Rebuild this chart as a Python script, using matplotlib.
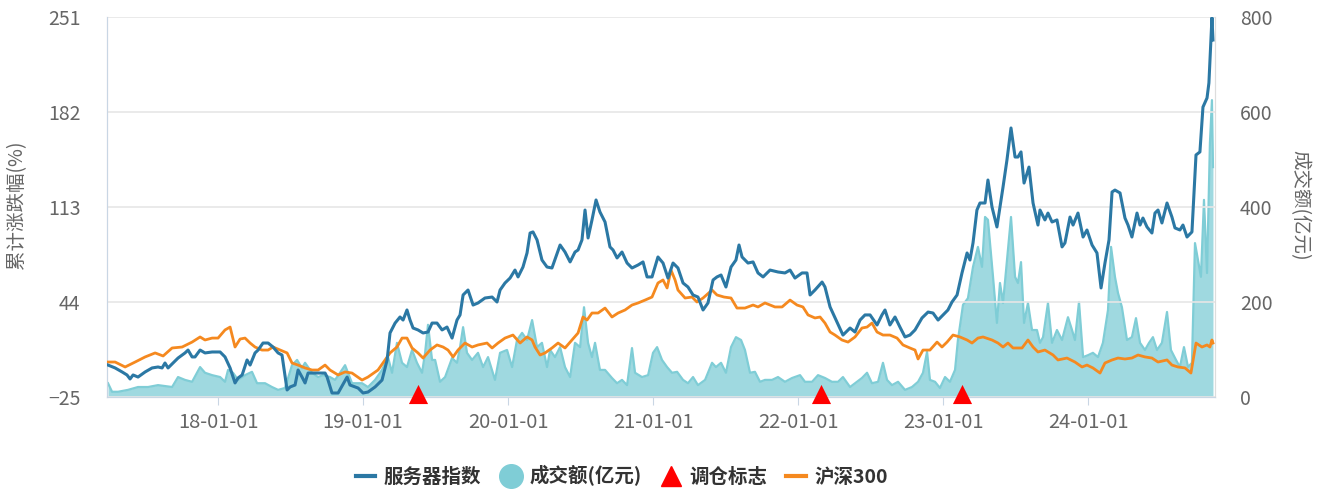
import numpy as np
import matplotlib
matplotlib.use("Agg")
import matplotlib.pyplot as plt
from matplotlib.lines import Line2D

plt.rcParams['font.family'] = ['Noto Sans CJK SC', 'DejaVu Sans']

# ------------------------------------------------------------
# data (dates as decimal years)
# ------------------------------------------------------------
idx_t = [2017.241, 2017.290, 2017.338, 2017.372, 2017.393, 2017.414, 2017.448, 2017.497,
         2017.545, 2017.586, 2017.614, 2017.634, 2017.655, 2017.690, 2017.724, 2017.772,
         2017.793, 2017.821, 2017.841, 2017.876, 2017.910, 2017.959, 2018.014, 2018.048,
         2018.083, 2018.117, 2018.138, 2018.166, 2018.200, 2018.221, 2018.255, 2018.276,
         2018.310, 2018.345, 2018.379, 2018.414, 2018.441, 2018.476, 2018.497, 2018.531,
         2018.552, 2018.579, 2018.600, 2018.621, 2018.669, 2018.717, 2018.738, 2018.752,
         2018.786, 2018.828, 2018.890, 2018.910, 2018.966, 2019.000, 2019.034, 2019.083,
         2019.131, 2019.166, 2019.186, 2019.221, 2019.255, 2019.276, 2019.303, 2019.324,
         2019.345, 2019.379, 2019.414, 2019.448, 2019.476, 2019.510, 2019.545, 2019.579,
         2019.614, 2019.648, 2019.669, 2019.690, 2019.724, 2019.759, 2019.793, 2019.841,
         2019.890, 2019.924, 2019.945, 2019.979, 2020.014, 2020.048, 2020.069, 2020.103,
         2020.131, 2020.152, 2020.172, 2020.200, 2020.234, 2020.269, 2020.303, 2020.359,
         2020.393, 2020.428, 2020.462, 2020.483, 2020.510, 2020.531, 2020.552, 2020.579,
         2020.607, 2020.634, 2020.669, 2020.703, 2020.724, 2020.752, 2020.786, 2020.821,
         2020.855, 2020.897, 2020.931, 2020.959, 2020.993, 2021.034, 2021.069, 2021.103,
         2021.138, 2021.172, 2021.207, 2021.241, 2021.276, 2021.310, 2021.345, 2021.379,
         2021.414, 2021.441, 2021.469, 2021.503, 2021.538, 2021.572, 2021.593, 2021.614,
         2021.655, 2021.690, 2021.724, 2021.759, 2021.807, 2021.862, 2021.910, 2021.945,
         2021.979, 2022.028, 2022.062, 2022.083, 2022.117, 2022.166, 2022.186, 2022.221,
         2022.269, 2022.310, 2022.359, 2022.393, 2022.428, 2022.462, 2022.497, 2022.545,
         2022.579, 2022.600, 2022.634, 2022.669, 2022.703, 2022.738, 2022.772, 2022.807,
         2022.855, 2022.897, 2022.931, 2022.966, 2023.000, 2023.034, 2023.062, 2023.097,
         2023.131, 2023.166, 2023.186, 2023.207, 2023.234, 2023.255, 2023.290, 2023.310,
         2023.338, 2023.372, 2023.414, 2023.441, 2023.469, 2023.497, 2023.517, 2023.538,
         2023.559, 2023.593, 2023.621, 2023.655, 2023.669, 2023.703, 2023.724, 2023.752,
         2023.786, 2023.821, 2023.841, 2023.876, 2023.897, 2023.931, 2023.966, 2023.993,
         2024.028, 2024.062, 2024.090, 2024.117, 2024.145, 2024.166, 2024.186, 2024.221,
         2024.255, 2024.276, 2024.303, 2024.338, 2024.359, 2024.379, 2024.407, 2024.441,
         2024.462, 2024.483, 2024.510, 2024.545, 2024.579, 2024.600, 2024.634, 2024.655,
         2024.683, 2024.717, 2024.745, 2024.772, 2024.793, 2024.821, 2024.834, 2024.848,
         2024.855, 2024.862]
idx_v = [-1.8, -3.9, -6.8, -9.0, -11.9, -9.0, -10.5, -6.8,
         -3.9, -3.2, -3.9, -0.3, -3.9, -0.3, 3.3, 7.0,
         9.1, 4.1, 4.1, 9.1, 7.0, 7.7, 7.7, 4.1,
         -3.9, -14.8, -11.2, -9.0, 1.9, -1.8, 7.0, 9.1,
         14.2, 14.2, 11.3, 7.0, 5.5, -19.9, -17.7, -16.3,
         -5.4, -10.5, -14.8, -7.6, -7.6, -7.6, -7.6, -10.5,
         -22.1, -22.1, -10.5, -16.3, -18.5, -22.1, -21.4, -17.7,
         -12.7, 1.9, 21.5, 28.7, 33.1, 30.9, 38.2, 30.9,
         25.1, 23.7, 21.5, 22.2, 28.7, 28.7, 23.7, 25.8,
         17.8, 30.9, 34.6, 49.1, 52.7, 41.8, 43.3, 46.9,
         47.6, 44.0, 52.7, 57.8, 61.4, 67.2, 62.2, 69.4,
         79.6, 94.1, 94.9, 89.1, 74.5, 69.4, 68.7, 85.4,
         80.3, 73.1, 80.3, 81.8, 89.1, 110.8, 90.5, 103.6,
         118.1, 109.4, 102.1, 84.0, 81.8, 76.0, 80.3, 72.3,
         68.7, 70.9, 73.1, 62.2, 62.2, 76.7, 72.3, 61.4,
         72.3, 68.7, 57.8, 54.9, 49.1, 47.6, 38.2, 43.3,
         60.0, 62.2, 63.6, 54.9, 69.4, 74.5, 85.4, 76.7,
         72.3, 73.1, 65.1, 62.2, 67.2, 65.8, 65.1, 67.2,
         61.4, 65.1, 65.1, 49.1, 52.7, 58.5, 54.9, 40.4,
         29.5, 20.0, 25.1, 22.2, 30.9, 34.6, 34.6, 27.3,
         34.6, 38.2, 27.3, 33.1, 25.8, 18.6, 20.0, 23.7,
         32.4, 36.7, 36.0, 30.9, 34.6, 38.2, 44.0, 49.1,
         65.1, 79.6, 74.5, 86.9, 110.8, 115.9, 115.9, 132.6,
         113.0, 98.5, 127.5, 147.1, 170.4, 149.3, 149.3, 153.0,
         130.4, 142.0, 115.9, 99.9, 110.8, 103.6, 108.6, 102.1,
         103.6, 84.0, 86.9, 105.7, 99.9, 108.6, 91.2, 96.3,
         85.4, 79.6, 54.2, 72.3, 89.1, 123.9, 125.3, 123.2,
         105.0, 99.9, 91.2, 108.6, 99.9, 105.0, 98.5, 94.1,
         108.6, 110.8, 101.4, 115.9, 105.7, 97.8, 96.3, 99.9,
         91.2, 94.9, 150.8, 153.0, 185.6, 192.2, 203.1, 234.3,
         250.5, 234.3]

hs_t = [2017.241, 2017.290, 2017.359, 2017.428, 2017.497, 2017.566, 2017.621, 2017.683,
        2017.752, 2017.821, 2017.876, 2017.910, 2017.959, 2018.000, 2018.048, 2018.083,
        2018.117, 2018.152, 2018.186, 2018.221, 2018.255, 2018.303, 2018.345, 2018.379,
        2018.428, 2018.476, 2018.510, 2018.552, 2018.600, 2018.648, 2018.690, 2018.738,
        2018.772, 2018.828, 2018.876, 2018.924, 2018.993, 2019.034, 2019.103, 2019.152,
        2019.186, 2019.234, 2019.269, 2019.303, 2019.338, 2019.379, 2019.414, 2019.462,
        2019.510, 2019.552, 2019.586, 2019.621, 2019.655, 2019.703, 2019.752, 2019.793,
        2019.855, 2019.890, 2019.931, 2019.979, 2020.034, 2020.083, 2020.131, 2020.166,
        2020.186, 2020.221, 2020.255, 2020.303, 2020.345, 2020.393, 2020.441, 2020.483,
        2020.517, 2020.545, 2020.579, 2020.621, 2020.669, 2020.717, 2020.759, 2020.807,
        2020.855, 2020.897, 2020.945, 2020.993, 2021.034, 2021.069, 2021.097, 2021.124,
        2021.152, 2021.172, 2021.221, 2021.269, 2021.303, 2021.345, 2021.407, 2021.441,
        2021.490, 2021.538, 2021.579, 2021.634, 2021.690, 2021.724, 2021.772, 2021.841,
        2021.890, 2021.945, 2021.993, 2022.034, 2022.069, 2022.117, 2022.152, 2022.186,
        2022.221, 2022.255, 2022.303, 2022.345, 2022.393, 2022.441, 2022.476, 2022.510,
        2022.545, 2022.586, 2022.634, 2022.683, 2022.724, 2022.772, 2022.807, 2022.828,
        2022.862, 2022.910, 2022.959, 2022.993, 2023.028, 2023.069, 2023.117, 2023.166,
        2023.200, 2023.241, 2023.276, 2023.338, 2023.379, 2023.414, 2023.448, 2023.483,
        2023.545, 2023.586, 2023.621, 2023.655, 2023.703, 2023.759, 2023.793, 2023.855,
        2023.910, 2023.959, 2023.993, 2024.034, 2024.083, 2024.117, 2024.166, 2024.207,
        2024.255, 2024.303, 2024.345, 2024.393, 2024.441, 2024.483, 2024.545, 2024.579,
        2024.621, 2024.669, 2024.710, 2024.745, 2024.786, 2024.821, 2024.841, 2024.855,
        2024.862]
hs_v = [0.4, 0.4, -3.2, 0.4, 4.1, 7.0, 4.8, 10.6,
        11.3, 14.9, 18.6, 16.4, 17.8, 17.8, 23.7, 25.8,
        11.3, 17.1, 17.8, 14.2, 11.3, 9.1, 9.1, 11.3,
        9.1, 7.0, -0.3, -1.8, -3.9, -5.4, -5.4, -1.8,
        -5.4, -9.0, -6.8, -7.6, -12.7, -10.5, -5.4, 1.9,
        7.0, 11.3, 17.8, 17.8, 10.6, 7.0, 3.3, 9.1,
        12.8, 11.3, 9.1, 4.1, 9.1, 14.2, 11.3, 12.8,
        14.2, 10.6, 14.2, 17.8, 20.0, 14.2, 18.6, 16.4,
        11.3, 5.5, 7.0, 10.6, 14.2, 10.6, 16.4, 21.5,
        33.1, 30.9, 36.0, 36.0, 39.6, 33.1, 36.0, 38.2,
        41.8, 43.3, 45.4, 47.6, 57.8, 60.0, 54.2, 67.2,
        60.0, 52.7, 46.9, 47.6, 44.0, 46.9, 52.7, 49.1,
        47.6, 46.9, 39.6, 39.6, 41.8, 40.4, 43.3, 40.4,
        40.4, 45.4, 41.8, 40.4, 34.6, 32.4, 33.1, 28.7,
        22.2, 20.0, 16.4, 14.9, 18.6, 25.1, 25.8, 28.7,
        22.2, 20.0, 20.0, 17.8, 12.8, 10.6, 9.1, 2.6,
        9.1, 9.1, 14.9, 11.3, 14.9, 20.0, 18.6, 16.4,
        14.2, 17.8, 18.6, 16.4, 14.2, 11.3, 14.2, 10.6,
        10.6, 16.4, 11.3, 7.7, 9.1, 5.5, 1.9, 3.3,
        0.4, -3.2, -1.8, -3.9, -7.6, -0.3, 1.9, 3.3,
        2.6, 3.3, 5.5, 4.1, 3.3, 0.4, 1.9, -1.8,
        -3.2, -3.9, -7.6, 14.2, 11.3, 12.8, 11.3, 16.4,
        14.2]

vol_t = [2017.241, 2017.269, 2017.310, 2017.379, 2017.448, 2017.517, 2017.586, 2017.683,
         2017.724, 2017.772, 2017.821, 2017.876, 2017.910, 2017.959, 2018.014, 2018.048,
         2018.069, 2018.103, 2018.138, 2018.186, 2018.234, 2018.269, 2018.324, 2018.372,
         2018.414, 2018.462, 2018.510, 2018.545, 2018.579, 2018.600, 2018.648, 2018.690,
         2018.724, 2018.772, 2018.807, 2018.841, 2018.876, 2018.924, 2018.993, 2019.034,
         2019.083, 2019.131, 2019.172, 2019.200, 2019.234, 2019.269, 2019.303, 2019.338,
         2019.372, 2019.407, 2019.428, 2019.448, 2019.476, 2019.497, 2019.531, 2019.566,
         2019.614, 2019.648, 2019.669, 2019.690, 2019.717, 2019.752, 2019.793, 2019.828,
         2019.862, 2019.910, 2019.945, 2019.993, 2020.028, 2020.062, 2020.097, 2020.131,
         2020.166, 2020.200, 2020.234, 2020.269, 2020.290, 2020.324, 2020.359, 2020.393,
         2020.428, 2020.462, 2020.497, 2020.524, 2020.552, 2020.579, 2020.600, 2020.634,
         2020.669, 2020.717, 2020.752, 2020.786, 2020.821, 2020.855, 2020.876, 2020.924,
         2020.966, 2021.000, 2021.028, 2021.062, 2021.097, 2021.131, 2021.166, 2021.207,
         2021.241, 2021.276, 2021.310, 2021.359, 2021.407, 2021.434, 2021.469, 2021.503,
         2021.538, 2021.572, 2021.607, 2021.634, 2021.669, 2021.703, 2021.738, 2021.772,
         2021.821, 2021.862, 2021.910, 2021.959, 2022.014, 2022.048, 2022.097, 2022.138,
         2022.186, 2022.234, 2022.276, 2022.310, 2022.359, 2022.407, 2022.441, 2022.476,
         2022.510, 2022.552, 2022.586, 2022.614, 2022.648, 2022.690, 2022.738, 2022.786,
         2022.828, 2022.862, 2022.890, 2022.910, 2022.945, 2022.979, 2023.014, 2023.048,
         2023.083, 2023.103, 2023.138, 2023.172, 2023.207, 2023.241, 2023.269, 2023.290,
         2023.310, 2023.345, 2023.372, 2023.393, 2023.414, 2023.441, 2023.469, 2023.497,
         2023.517, 2023.538, 2023.559, 2023.586, 2023.614, 2023.648, 2023.669, 2023.690,
         2023.724, 2023.752, 2023.786, 2023.821, 2023.862, 2023.890, 2023.910, 2023.938,
         2023.966, 2024.000, 2024.034, 2024.069, 2024.103, 2024.138, 2024.159, 2024.186,
         2024.207, 2024.234, 2024.269, 2024.303, 2024.331, 2024.359, 2024.393, 2024.421,
         2024.448, 2024.476, 2024.510, 2024.545, 2024.572, 2024.607, 2024.634, 2024.662,
         2024.690, 2024.717, 2024.738, 2024.759, 2024.779, 2024.800, 2024.821, 2024.841,
         2024.855, 2024.862]
vol_v = [29, 11, 11, 15, 21, 21, 25, 21,
         42, 36, 32, 63, 51, 46, 42, 32,
         57, 51, 36, 46, 53, 29, 29, 21,
         15, 19, 67, 78, 61, 72, 51, 42,
         46, 42, 36, 51, 67, 29, 29, 21,
         36, 57, 84, 51, 114, 72, 63, 99,
         72, 51, 93, 152, 78, 78, 32, 42,
         82, 72, 105, 147, 93, 78, 93, 63,
         84, 36, 93, 99, 63, 120, 135, 120,
         162, 105, 114, 63, 99, 84, 105, 63,
         42, 114, 105, 189, 114, 84, 114, 57,
         57, 40, 29, 36, 25, 103, 51, 42,
         46, 93, 105, 78, 63, 51, 53, 36,
         29, 42, 25, 36, 72, 63, 72, 51,
         105, 126, 120, 99, 51, 53, 32, 36,
         36, 42, 32, 40, 46, 32, 32, 46,
         40, 32, 32, 42, 21, 32, 40, 51,
         29, 32, 72, 36, 25, 32, 15, 21,
         32, 51, 95, 36, 32, 19, 42, 32,
         57, 120, 194, 208, 274, 316, 274, 379,
         373, 253, 156, 240, 198, 288, 379, 253,
         240, 284, 156, 198, 141, 141, 114, 126,
         198, 114, 141, 120, 168, 141, 120, 200,
         84, 88, 93, 84, 114, 183, 316, 253,
         219, 189, 120, 126, 166, 114, 99, 114,
         126, 99, 114, 179, 99, 78, 63, 105,
         63, 72, 324, 288, 253, 415, 261, 535,
         625, 484]

rebal_t = [2019.379, 2022.159, 2023.131]

year_ticks = [2018, 2019, 2020, 2021, 2022, 2023, 2024]
year_labels = ["18-01-01", "19-01-01", "20-01-01", "21-01-01",
               "22-01-01", "23-01-01", "24-01-01"]
left_ticks = [-25, 44, 113, 182, 251]
right_ticks = [0, 200, 400, 600, 800]

# ------------------------------------------------------------
# colours
# ------------------------------------------------------------
C_IDX = "#2b78a4"
C_HS = "#f5891f"
C_VOL_FILL = "#9fd9e0"
C_VOL_EDGE = "#7fcdd6"
C_RED = "#ff0000"
C_TXT = "#666666"

fig = plt.figure(figsize=(13.25, 4.91), dpi=100)
ax = fig.add_axes([107 / 1325, 1 - 397 / 491, (1215 - 107) / 1325, (397 - 17) / 491])
ax2 = ax.twinx()

# volume area on the right axis
ax2.fill_between(vol_t, vol_v, 0, color=C_VOL_FILL, lw=0)
ax2.plot(vol_t, vol_v, color=C_VOL_EDGE, lw=1.6)
ax2.set_ylim(0, 800)
ax2.set_yticks(right_ticks)

# lines on the left axis, drawn above the area
ax.set_zorder(ax2.get_zorder() + 1)
ax.patch.set_visible(False)
ax.plot(hs_t, hs_v, color=C_HS, lw=2.0, zorder=3)
ax.plot(idx_t, idx_v, color=C_IDX, lw=2.2, zorder=4)
ax.scatter(rebal_t, [-22.5] * len(rebal_t), marker="^", s=190, color=C_RED,
           zorder=5, clip_on=False, linewidths=0)

ax.set_xlim(2017.234, 2024.876)
ax.set_ylim(-25, 251)
ax.set_yticks(left_ticks)
ax.set_xticks(year_ticks)
ax.set_xticklabels(year_labels)

ax.grid(True, axis="y", color="#e6e6e6", lw=1.2)
ax.set_axisbelow(True)

for a in (ax, ax2):
    a.spines["top"].set_visible(False)
    a.spines["left"].set_color("#c9d6e4")
    a.spines["right"].set_color("#dddddd")
    a.spines["bottom"].set_color("#c9d6e4")
    a.tick_params(axis="y", length=0, labelsize=14, colors=C_TXT)
ax.tick_params(axis="y", pad=19)
ax2.tick_params(axis="y", pad=18)
ax.tick_params(axis="x", length=6, color="#c9d6e4", labelsize=14.5, labelcolor=C_TXT, pad=5)

ax.set_ylabel("累计涨跌幅(%)", fontsize=14, color=C_TXT)
ax.yaxis.set_label_coords(-0.072, 0.505)
ax2.set_ylabel("成交额(亿元)", fontsize=14, color=C_TXT, rotation=-90, va="center")
ax2.yaxis.set_label_coords(1.0767, 0.505)

handles = [
    Line2D([], [], color=C_IDX, lw=3),
    Line2D([], [], marker="o", color="none", markerfacecolor="#7fcdd6",
           markeredgecolor="#7fcdd6", markersize=17),
    Line2D([], [], marker="^", color="none", markerfacecolor=C_RED,
           markeredgecolor=C_RED, markersize=14),
    Line2D([], [], color=C_HS, lw=3),
]
labels = ["服务器指数", "成交额(亿元)", "调仓标志", "沪深300"]
fig.legend(handles, labels, loc="center", bbox_to_anchor=(622 / 1325, 1 - 476 / 491),
           ncol=4, frameon=False, prop={"size": 14, "weight": "bold"},
           handlelength=1.0, columnspacing=1.0, handletextpad=0.45,
           labelcolor="#333333")

fig.savefig("out.png", dpi=100)
